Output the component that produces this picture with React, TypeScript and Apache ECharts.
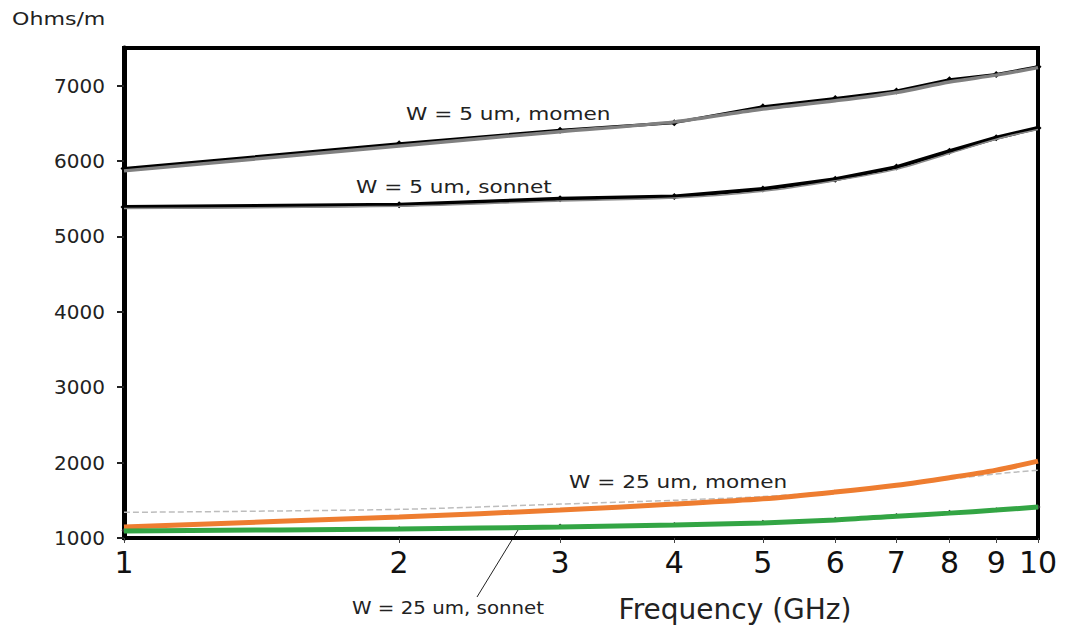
import React, { useEffect, useRef } from "react";
import * as echarts from "echarts";

// Frequencies (GHz) at which the curves are sampled
const freqs = [1, 2, 3, 4, 5, 6, 7, 8, 9, 10];
const xTickFreqs = [1, 2, 3, 4, 5, 6, 7, 8, 9, 10];
const yTicks = [1000, 2000, 3000, 4000, 5000, 6000, 7000];

// W = 5 um, momen (measured, black) and fit (gray)
const momen5Black = [5900, 6230, 6410, 6510, 6720, 6830, 6930, 7080, 7150, 7250];
const momen5Gray = [5870, 6200, 6390, 6520, 6690, 6800, 6910, 7050, 7140, 7240];
// W = 5 um, sonnet
const sonnet5Black = [5390, 5420, 5500, 5530, 5630, 5760, 5920, 6130, 6310, 6440];
const sonnet5Gray = [5370, 5400, 5470, 5510, 5600, 5740, 5890, 6100, 6290, 6420];
// W = 25 um, momen
const momen25Orange = [1146, 1280, 1370, 1450, 1520, 1610, 1700, 1800, 1900, 2020];
const momen25Gray = [1340, 1380, 1450, 1500, 1550, 1620, 1700, 1780, 1850, 1900];
// W = 25 um, sonnet
const sonnet25Green = [1093, 1120, 1146, 1173, 1200, 1240, 1290, 1330, 1370, 1410];
const sonnet25Black = [1100, 1125, 1160, 1180, 1210, 1250, 1300, 1340, 1375, 1410];

const FONT = "DejaVu Sans";

const toXY = (vals: number[]) => freqs.map((f, i) => [Math.log10(f), vals[i]]);

export default function App() {
  const ref = useRef<HTMLDivElement>(null);

  useEffect(() => {
    if (!ref.current) return;
    const chart = echarts.init(ref.current, undefined, { renderer: "svg" });
    const logTicks = xTickFreqs.map((f) => Math.log10(f));

    const line = (
      name: string,
      vals: number[],
      color: string,
      width: number,
      extra: any = {}
    ) => ({
      name,
      type: "line",
      data: toXY(vals),
      lineStyle: { color, width },
      itemStyle: { color },
      showSymbol: false,
      symbol: "none",
      z: 2,
      ...extra,
    });

    const option: any = {
      animation: false,
      backgroundColor: "#ffffff",
      grid: {
        left: 124,
        right: 31,
        top: 48,
        bottom: 92,
        show: true,
        borderColor: "#000",
        borderWidth: 4,
        containLabel: false,
        outerBoundsMode: "none",
      },
      xAxis: {
        type: "value",
        min: 0,
        max: 1,
        splitLine: { show: false },
        axisLine: { show: true, lineStyle: { color: "#000", width: 4 } },
        axisTick: {
          show: true,
          customValues: logTicks,
          length: 5,
          lineStyle: { color: "#444", width: 1 },
        },
        axisLabel: {
          customValues: logTicks,
          formatter: (v: number) => String(Math.round(Math.pow(10, v))),
          fontFamily: FONT,
          fontSize: 30,
          color: "#111",
          margin: 9,
        },
      },
      yAxis: {
        type: "value",
        min: 1000,
        max: 7500,
        interval: 500,
        splitLine: { show: false },
        axisLine: { show: true, lineStyle: { color: "#000", width: 5 } },
        axisTick: {
          show: true,
          customValues: yTicks,
          length: 7,
          lineStyle: { color: "#222", width: 2 },
        },
        axisLabel: {
          customValues: yTicks,
          formatter: (v: number) => String(Math.round(v)),
          fontFamily: FONT,
          fontSize: 20,
          color: "#222",
          margin: 19,
        },
      },
      series: [
        line("W = 5 um, momen (measured)", momen5Black, "#000", 3, {
          symbol: "diamond",
          showSymbol: true,
          symbolSize: 7,
        }),
        line("W = 5 um, momen", momen5Gray, "#808080", 3.5, { smooth: 0.3, z: 3 }),
        line("W = 5 um, sonnet (measured)", sonnet5Black, "#000", 4, {
          symbol: "diamond",
          showSymbol: true,
          symbolSize: 7,
        }),
        line("W = 5 um, sonnet", sonnet5Gray, "#8a8a8a", 1.5, { smooth: 0.3, z: 3 }),
        line("W = 25 um, momen (fit)", momen25Gray, "#bdbdbd", 1.5, {
          smooth: 0.3,
          lineStyle: { color: "#bdbdbd", width: 1.5, type: "dashed" },
        }),
        line("W = 25 um, momen", momen25Orange, "#ee7d30", 5, { smooth: 0.3, z: 3 }),
        line("W = 25 um, sonnet (measured)", sonnet25Black, "#333", 1.5, {
          symbol: "diamond",
          showSymbol: true,
          symbolSize: 5,
        }),
        line("W = 25 um, sonnet", sonnet25Green, "#33a544", 5, { smooth: 0.3, z: 3 }),
      ],
      graphic: [
        {
          type: "text",
          x: 12,
          y: 19,
          scaleX: 1.3,
          style: {
            text: "Ohms/m",
            fontFamily: FONT,
            fontSize: 17,
            fill: "#222",
            verticalAlign: "middle",
          },
        },
        {
          type: "text",
          x: 406,
          y: 114,
          scaleX: 1.2,
          style: {
            text: "W = 5 um, momen",
            fontFamily: FONT,
            fontSize: 18,
            fill: "#222",
            verticalAlign: "middle",
          },
        },
        {
          type: "text",
          x: 356,
          y: 187,
          scaleX: 1.2,
          style: {
            text: "W = 5 um, sonnet",
            fontFamily: FONT,
            fontSize: 18,
            fill: "#222",
            verticalAlign: "middle",
          },
        },
        {
          type: "text",
          x: 569,
          y: 482,
          scaleX: 1.2,
          style: {
            text: "W = 25 um, momen",
            fontFamily: FONT,
            fontSize: 18,
            fill: "#222",
            verticalAlign: "middle",
          },
        },
        {
          type: "text",
          x: 352,
          y: 607,
          scaleX: 1.1,
          style: {
            text: "W = 25 um, sonnet",
            fontFamily: FONT,
            fontSize: 18,
            fill: "#222",
            verticalAlign: "middle",
          },
        },
        {
          type: "line",
          shape: { x1: 518, y1: 530, x2: 477, y2: 597 },
          style: { stroke: "#222", lineWidth: 1 },
        },
        {
          type: "text",
          x: 735,
          y: 609,
          style: {
            text: "Frequency (GHz)",
            fontFamily: FONT,
            fontSize: 28,
            fill: "#222",
            align: "center",
            verticalAlign: "middle",
          },
        },
      ],
    };

    chart.setOption(option);
    return () => chart.dispose();
  }, []);

  return (
    <div
      ref={ref}
      style={{
        position: "absolute",
        left: 0,
        top: 0,
        width: 1069,
        height: 630,
        background: "#fff",
      }}
    />
  );
}
